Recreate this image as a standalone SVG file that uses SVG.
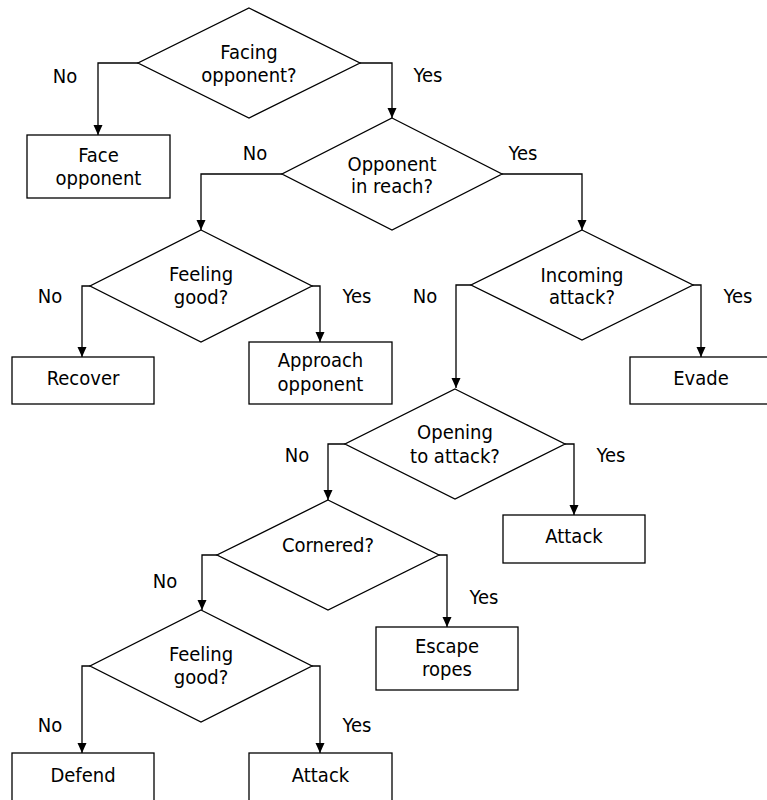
<svg xmlns="http://www.w3.org/2000/svg" width="767" height="800" viewBox="0 0 767 800">
<defs>
<marker id="arr" markerUnits="userSpaceOnUse" markerWidth="10" markerHeight="10" refX="10" refY="4.5" orient="auto">
<path d="M0,0 L10,4.5 L0,9 z" fill="#000"/>
</marker>
<style>
.shape{fill:#fff;stroke:#000;stroke-width:1.3}
.conn{fill:none;stroke:#000;stroke-width:1.3;marker-end:url(#arr)}
text{font-family:"DejaVu Sans Condensed","DejaVu Sans",sans-serif;font-stretch:condensed;font-size:20px;fill:#000;text-anchor:middle}
</style>
</defs>
<rect width="767" height="800" fill="#fff"/>
<g id="connectors">
<path class="conn" d="M138,63 H98 V135"/>
<path class="conn" d="M360,63 H392 V118"/>
<path class="conn" d="M282,174 H201 V230"/>
<path class="conn" d="M502,174 H582 V230"/>
<path class="conn" d="M90,286 H82 V357"/>
<path class="conn" d="M312,286 H320 V342"/>
<path class="conn" d="M471,285 H456 V388"/>
<path class="conn" d="M693,285 H701 V357"/>
<path class="conn" d="M345,444 H328 V500"/>
<path class="conn" d="M565,444 H574 V515"/>
<path class="conn" d="M217,555 H202 V610"/>
<path class="conn" d="M439,555 H447 V627"/>
<path class="conn" d="M90,666 H82 V753"/>
<path class="conn" d="M312,666 H320 V753"/>
</g>
<g id="labels">
<text x="65" y="83">No</text><text x="428" y="82">Yes</text>
<text x="255" y="160">No</text><text x="523" y="160">Yes</text>
<text x="50" y="303">No</text><text x="357" y="303">Yes</text>
<text x="425" y="303">No</text><text x="738" y="303">Yes</text>
<text x="297" y="462">No</text><text x="611" y="462">Yes</text>
<text x="165" y="588">No</text><text x="484" y="604">Yes</text>
<text x="50" y="732">No</text><text x="357" y="732">Yes</text>
</g>
<g id="d1"><polygon class="shape" points="249,8 360,63 249,118 138,63"/><text x="249" y="59">Facing</text><text x="249" y="82">opponent?</text></g>
<g id="b1"><rect class="shape" x="27" y="135" width="143" height="63"/><text x="98.5" y="162">Face</text><text x="98.5" y="185">opponent</text></g>
<g id="d2"><polygon class="shape" points="392,118 502,174 392,230 282,174"/><text x="392" y="171">Opponent</text><text x="392" y="193">in reach?</text></g>
<g id="d3"><polygon class="shape" points="201,230 312,286 201,342 90,286"/><text x="201" y="281">Feeling</text><text x="201" y="304">good?</text></g>
<g id="b2"><rect class="shape" x="12" y="357" width="142" height="47"/><text x="83" y="385">Recover</text></g>
<g id="b3"><rect class="shape" x="249" y="342" width="143" height="62"/><text x="320.5" y="367">Approach</text><text x="320.5" y="391">opponent</text></g>
<g id="d4"><polygon class="shape" points="582,230 693,285 582,340 471,285"/><text x="582" y="282">Incoming</text><text x="582" y="304">attack?</text></g>
<g id="b4"><rect class="shape" x="630" y="357" width="142" height="47"/><text x="701" y="385">Evade</text></g>
<g id="d5"><polygon class="shape" points="455,389 565,444 455,499 345,444"/><text x="455" y="439">Opening</text><text x="455" y="463">to attack?</text></g>
<g id="b5"><rect class="shape" x="503" y="515" width="142" height="48"/><text x="574" y="543">Attack</text></g>
<g id="d6"><polygon class="shape" points="328,500 439,555 328,610 217,555"/><text x="328" y="552">Cornered?</text></g>
<g id="b6"><rect class="shape" x="376" y="627" width="142" height="63"/><text x="447" y="653">Escape</text><text x="447" y="676">ropes</text></g>
<g id="d7"><polygon class="shape" points="201,610 312,666 201,722 90,666"/><text x="201" y="661">Feeling</text><text x="201" y="684">good?</text></g>
<g id="b7"><rect class="shape" x="12" y="753" width="142" height="60"/><text x="83" y="782">Defend</text></g>
<g id="b8"><rect class="shape" x="249" y="753" width="143" height="60"/><text x="320.5" y="782">Attack</text></g>
</svg>
